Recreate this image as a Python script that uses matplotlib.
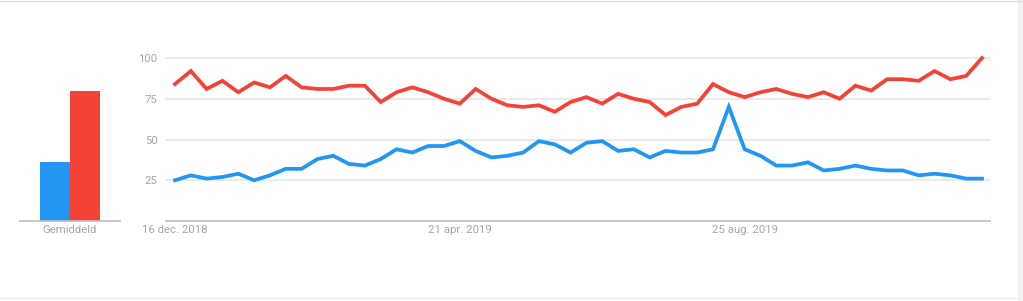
import matplotlib
matplotlib.use("Agg")
import matplotlib.pyplot as plt
from matplotlib.lines import Line2D
from matplotlib.patches import Rectangle

# ---- data ----
red_values = [84, 92, 81, 86, 79, 85, 82, 89, 82, 81, 81, 83, 83, 73, 79, 82, 79, 75,
              72, 81, 75, 71, 70, 71, 67, 73, 76, 72, 78, 75, 73, 65, 70, 72, 84, 79,
              76, 79, 81, 78, 76, 79, 75, 83, 80, 87, 87, 86, 92, 87, 89, 100]
blue_values = [25, 28, 26, 27, 29, 25, 28, 32, 32, 38, 40, 35, 34, 38, 44, 42, 46, 46,
               49, 43, 39, 40, 42, 49, 47, 42, 48, 49, 43, 44, 39, 43, 42, 42, 44, 70,
               44, 40, 34, 34, 36, 31, 32, 34, 32, 31, 31, 28, 29, 28, 26, 26]
avg_values = [36, 80]          # blue, red
avg_label = "Gemiddeld"
x_tick_idx = [0, 18, 36]
x_tick_labels = ["16 dec. 2018", "21 apr. 2019", "25 aug. 2019"]
y_ticks = [25, 50, 75, 100]

BLUE = "#2196F3"
RED = "#F44336"
TXT = "#A6A6A6"
GRID = "#E6E6E6"
AXL = "#BDBDBD"

plt.rcParams['font.family'] = ['Roboto', 'DejaVu Sans']

W, H = 1023, 301
fig = plt.figure(figsize=(W / 100, H / 100), dpi=100)
fig.patch.set_facecolor("white")

def px_axes(left, top, right, bottom):
    return fig.add_axes([left / W, 1 - bottom / H, (right - left) / W, (bottom - top) / H])

# ---- main line chart ----
ax = px_axes(166, 58, 990, 221)
x = list(range(len(red_values)))
ax.set_xlim(-9 / 15.82, len(x) - 1 + 8 / 15.82)
ax.set_ylim(0, 100)
for yv in y_ticks:
    ax.axhline(yv, color=GRID, lw=1.2, zorder=0, clip_on=False)
ax.plot(x, blue_values, color=BLUE, lw=2.7, solid_joinstyle='miter', clip_on=False, zorder=3)
ax.plot(x, red_values, color=RED, lw=2.7, solid_joinstyle='miter', clip_on=False, zorder=3)
for s in ["top", "right", "left"]:
    ax.spines[s].set_visible(False)
ax.spines["bottom"].set_color(AXL)
ax.spines["bottom"].set_linewidth(1.2)
ax.set_yticks(y_ticks)
ax.set_yticklabels([str(v) for v in y_ticks])
ax.set_xticks(x_tick_idx)
ax.set_xticklabels(x_tick_labels)
ax.tick_params(axis='y', length=0, pad=6, labelsize=8.2, labelcolor=TXT)
ax.tick_params(axis='x', length=0, pad=3, labelsize=8.2, labelcolor=TXT)
ax.patch.set_alpha(0)

# ---- average bar chart ----
bx = px_axes(20, 58, 120, 221)
bx.bar([0, 1], avg_values, width=1.0, color=[BLUE, RED], zorder=2)
bx.set_xlim(-35 / 30, 1 + 35 / 30)
bx.set_ylim(0, 100)
for s in ["top", "right", "left"]:
    bx.spines[s].set_visible(False)
bx.spines["bottom"].set_color(AXL)
bx.spines["bottom"].set_linewidth(1.2)
bx.set_yticks([])
bx.set_xticks([0.5])
bx.set_xticklabels([avg_label])
bx.tick_params(axis='x', length=0, pad=3, labelsize=8.2, labelcolor=TXT)
bx.patch.set_alpha(0)

# ---- card borders ----
fig.add_artist(Line2D([0, 1], [1 - 0.5 / H, 1 - 0.5 / H], transform=fig.transFigure,
                      color="#DDDDDD", lw=1.0))
fig.add_artist(Rectangle((1018 / W, 0), 5 / W, 1, transform=fig.transFigure,
                         facecolor="#F2F2F2", edgecolor="none"))
fig.add_artist(Line2D([0, 1018 / W], [3.5 / H, 3.5 / H], transform=fig.transFigure,
                      color="#EEEEEE", lw=1.0))

fig.savefig("out.png", dpi=100, facecolor="white")
